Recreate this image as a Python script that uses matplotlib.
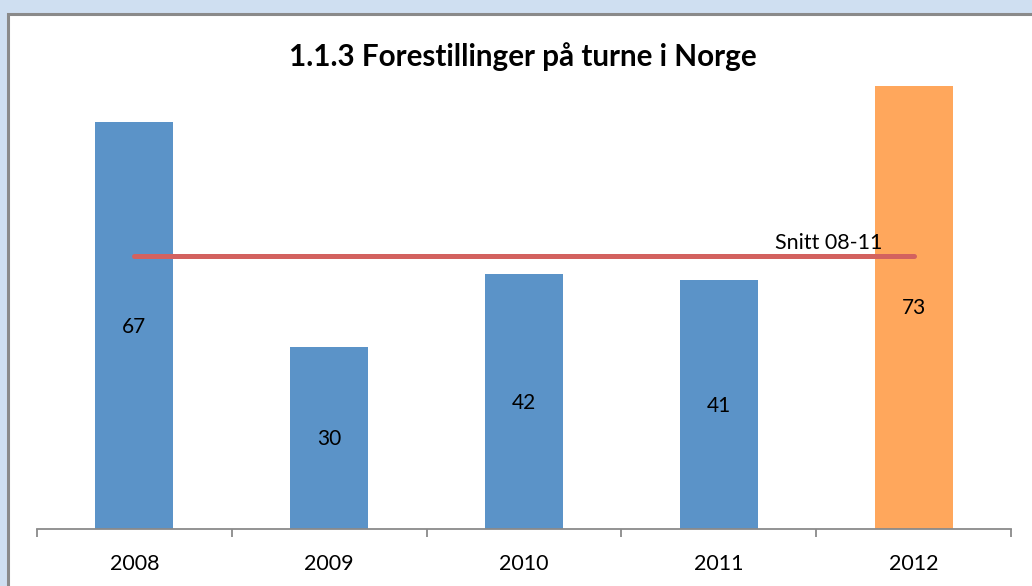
import matplotlib
matplotlib.use("Agg")
import matplotlib.pyplot as plt
from matplotlib.patches import Rectangle
import numpy as np

years = ["2008", "2009", "2010", "2011", "2012"]
values = [67, 30, 42, 41, 73]
bar_colors = ["#5B93C8", "#5B93C8", "#5B93C8", "#5B93C8", "#FFA75C"]
avg_label = "Snitt 08-11"
avg_value = sum(values[:4]) / 4
title = "1.1.3 Forestillinger på turne i Norge"

plt.rcParams['font.family'] = ['Lato', 'DejaVu Sans']

fig = plt.figure(figsize=(10.32, 5.86), dpi=100)
fig.patch.set_facecolor("#CFDFF1")
# white inner panel with gray border
bg = fig.add_axes([0, 0, 1, 1], zorder=-10)
bg.set_axis_off()
bg.set_xlim(0, 1); bg.set_ylim(0, 1)
bg.add_patch(Rectangle((8/1032, -0.1), 1.2, (586-14)/586 + 0.1,
                       facecolor="white", edgecolor="#8A8A8A", linewidth=2.2))

ax = fig.add_axes([37/1032, 57/586, 974/1032, 486/586])
ax.set_facecolor("none")
x = np.arange(len(years))
ax.bar(x, values, width=0.4, color=bar_colors, zorder=2)
ax.plot(x, [avg_value]*len(x), color="#D3625F", linewidth=3.6,
        solid_capstyle="round", zorder=3)
ax.text(x[-1] - 0.435, avg_value + 0.5, avg_label, ha="center", va="bottom",
        fontsize=15.5, color="black", zorder=4)
for xi, v in zip(x, values):
    ax.text(xi, v/2 - 0.2, str(v), ha="center", va="center", fontsize=15,
            color="black", zorder=4)

ax.set_xlim(-0.5, 4.5)
ax.set_ylim(0, 80)
for s in ["top", "right", "left"]:
    ax.spines[s].set_visible(False)
ax.spines["bottom"].set_color("#8A8A8A")
ax.spines["bottom"].set_linewidth(1.3)
ax.set_yticks([])
ax.set_xticks(x)
ax.set_xticklabels(years, fontsize=15.5)
ax.tick_params(axis="x", which="major", length=0, pad=18)
ax.set_xticks(np.arange(-0.5, 5.0, 1.0), minor=True)
ax.tick_params(axis="x", which="minor", length=6, width=1.3, color="#8A8A8A",
               direction="out")

fig.text(523/1032, 1 - 57/586, title, ha="center", va="center",
         fontsize=21.3, fontweight="bold")

fig.savefig("out.png", dpi=100, facecolor=fig.get_facecolor())
